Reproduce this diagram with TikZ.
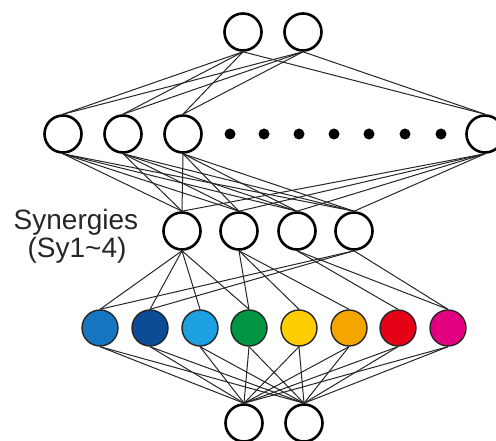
\documentclass[tikz,border=0pt]{standalone}
\usepackage{fontspec}
\setmainfont{Liberation Sans}
\definecolor{mA}{RGB}{24,118,192}
\definecolor{mB}{RGB}{10,76,150}
\definecolor{mC}{RGB}{28,160,226}
\definecolor{mD}{RGB}{0,150,68}
\definecolor{mE}{RGB}{255,206,0}
\definecolor{mF}{RGB}{245,166,0}
\definecolor{mG}{RGB}{228,0,22}
\definecolor{mH}{RGB}{226,0,128}
\begin{document}
\begin{tikzpicture}[x=1pt,y=-1pt,
  unit/.style={circle,draw=black,line width=2.6pt,fill=white,minimum size=37pt,inner sep=0pt},
  muscle/.style={circle,draw=black!85,line width=1.4pt,minimum size=36pt,inner sep=0pt},
  link/.style={line width=1pt,black!85},
  dotnode/.style={circle,fill=black,minimum size=11pt,inner sep=0pt},
  lab/.style={font=\fontsize{28}{30}\selectfont,text=black!85,anchor=base,inner sep=0pt}]
\useasboundingbox (0,0) rectangle (496,441);

% output layer
\foreach \x [count=\i] in {243,303} \node[unit] (o\i) at (\x,32) {};
% hidden layer
\foreach \x [count=\i] in {63,123,183,485} \node[unit] (h\i) at (\x,134) {};
\foreach \x [count=\i] in {230,264,299,334,369,405,441} \node[dotnode] (d\i) at (\x,134) {};
% synergy layer
\foreach \x [count=\i] in {182,239,297,354} \node[unit] (s\i) at (\x,231) {};
% muscle layer
\foreach \x/\c [count=\i] in {100/mA,150/mB,200/mC,249/mD,299/mE,349/mF,398/mG,448/mH}
  \node[muscle,fill=\c] (m\i) at (\x,328) {};
% input layer
\foreach \x [count=\i] in {244,304} \node[unit] (i\i) at (\x,423) {};

% connections
\foreach \a in {1,2} \foreach \b in {1,...,4} \draw[link] (o\a.south) -- (h\b.north);
\foreach \a in {1,...,4} \foreach \b in {1,...,4} \draw[link] (h\a.south) -- (s\b.north);
\foreach \a/\b in {1/1,1/2,1/3,1/4,2/4,2/5,2/6,3/7,3/8,4/1,4/2,4/8}
  \draw[link] (s\a.south) -- (m\b.north);
\foreach \a in {1,...,8} \foreach \b in {1,2} \draw[link] (m\a.south) -- (i\b.north);

% label
\node[lab] (syn) at (76,230) {Synergies};
\node[lab] (syn2) at (77,258) {(Sy1\textasciitilde 4)};
\end{tikzpicture}
\end{document}
